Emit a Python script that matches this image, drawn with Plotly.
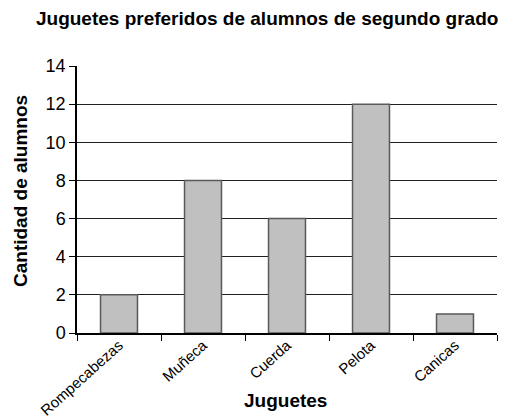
import plotly.graph_objects as go

categories = ["Rompecabezas", "Muñeca", "Cuerda", "Pelota", "Canicas"]
values = [2, 8, 6, 12, 1]
y_ticks = [0, 2, 4, 6, 8, 10, 12, 14]

font = "Liberation Sans, Arial, sans-serif"

fig = go.Figure(go.Bar(
    x=categories, y=values,
    marker=dict(color="#c0c0c0", line=dict(color="#5a5a5a", width=1.5)),
    width=0.44,
))

fig.update_layout(
    width=507, height=420,
    margin=dict(l=77, r=10, t=66, b=87, autoexpand=False),
    paper_bgcolor="white", plot_bgcolor="white",
    showlegend=False,
    title=dict(text="<b>Juguetes preferidos de alumnos de segundo grado</b>",
               font=dict(family=font, size=19, color="black"),
               x=0.527, xref="container", xanchor="center",
               y=0.957, yref="container", yanchor="middle"),
    font=dict(family=font, color="black"),
    annotations=[
        dict(text="<b>Cantidad de alumnos</b>", textangle=-90,
             xref="paper", yref="paper", x=(20 - 77) / 420, y=(333 - 191) / 267,
             xanchor="center", yanchor="middle", showarrow=False,
             font=dict(family=font, size=19, color="black")),
        dict(text="<b>Juguetes</b>",
             xref="paper", yref="paper", x=(285 - 77) / 420, y=(333 - 400) / 267,
             xanchor="center", yanchor="middle", showarrow=False,
             font=dict(family=font, size=19, color="black")),
    ],
)

fig.update_xaxes(
    showline=True, linecolor="black", linewidth=1.5,
    ticks="outside", tickson="boundaries", ticklen=6, tickcolor="black",
    tickangle=-42, tickfont=dict(size=15), ticklabelstandoff=-4,
    showgrid=False, automargin=False,
)
fig.update_yaxes(
    range=[0, 14], tickvals=y_ticks,
    showline=True, linecolor="black", linewidth=1.5,
    ticks="outside", ticklen=6, tickcolor="black",
    tickfont=dict(size=18),
    showgrid=True, gridcolor="#202020", gridwidth=1,
    zeroline=False, automargin=False,
)

fig.write_html("out.html", config={"displayModeBar": False},
               post_script="document.body.style.margin='0';")
